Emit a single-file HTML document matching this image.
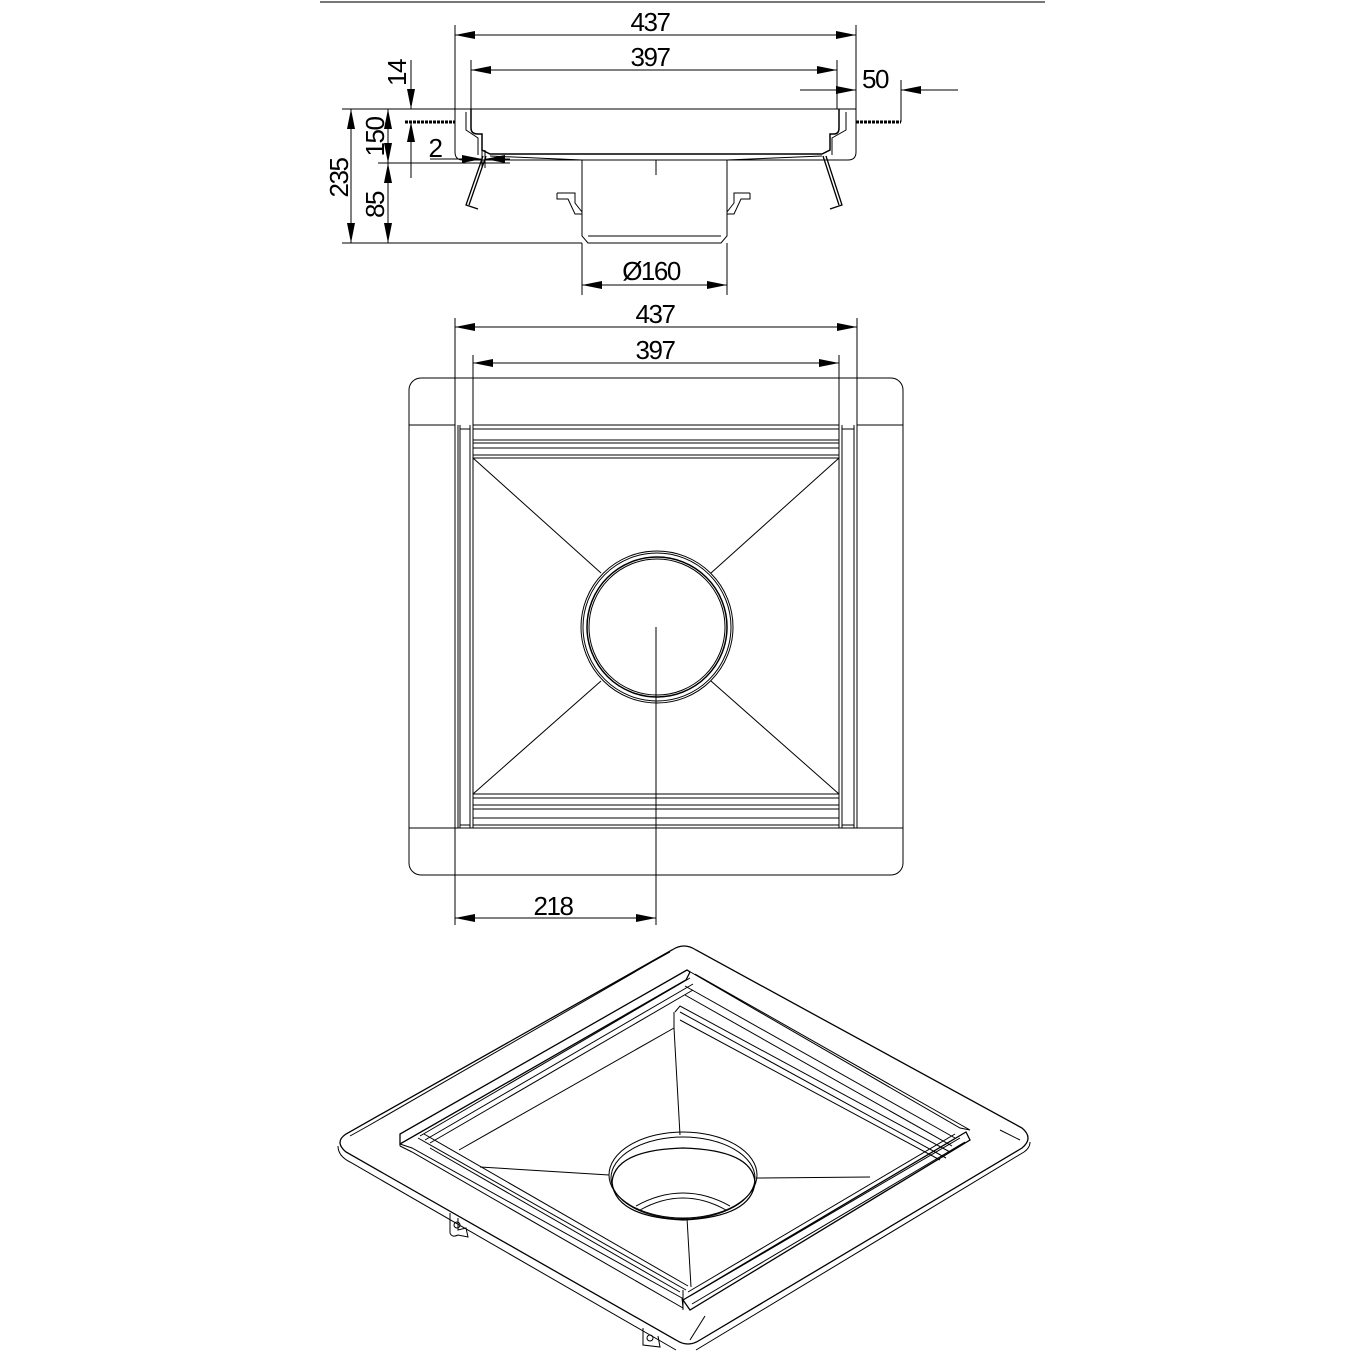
<!DOCTYPE html>
<html><head><meta charset="utf-8"><style>
html,body{margin:0;padding:0;background:#fff}
svg{display:block}
text{font-family:"Liberation Sans",sans-serif;font-size:26px;fill:#000;letter-spacing:-1.5px}
</style></head><body>
<svg width="1366" height="1366" viewBox="0 0 1366 1366" xmlns="http://www.w3.org/2000/svg">
<defs>
<marker id="a" viewBox="0 0 20 8" refX="20" refY="4" markerWidth="20" markerHeight="8" markerUnits="userSpaceOnUse" orient="auto-start-reverse"><path d="M0,0 L20,4 L0,8 z" fill="#000"/></marker>
</defs>
<line x1="320" y1="2" x2="1045" y2="2" stroke="#777" stroke-width="2"/>
<g stroke="#000" stroke-width="1" fill="none">
<!-- SECTION VIEW -->
<line x1="455" y1="25" x2="455" y2="109"/><line x1="856" y1="25" x2="856" y2="109"/>
<line x1="455" y1="35" x2="856" y2="35" marker-start="url(#a)" marker-end="url(#a)"/>
<line x1="471" y1="60" x2="471" y2="109"/><line x1="837" y1="60" x2="837" y2="109"/>
<line x1="471" y1="70" x2="837" y2="70" marker-start="url(#a)" marker-end="url(#a)"/>
<line x1="800" y1="90" x2="856" y2="90" marker-end="url(#a)"/>
<line x1="958" y1="90" x2="901" y2="90" marker-end="url(#a)"/>
<line x1="901" y1="80" x2="901" y2="122"/>
<line x1="411" y1="60" x2="411" y2="109" marker-end="url(#a)"/>
<line x1="411" y1="178" x2="411" y2="122" marker-end="url(#a)"/>
<line x1="342" y1="109" x2="856" y2="109"/>
<line x1="405" y1="122" x2="455" y2="122" stroke-width="3" stroke-dasharray="3 1"/>
<line x1="856" y1="122" x2="901" y2="122" stroke-width="3" stroke-dasharray="3 1"/>
<path d="M455,109 V152 Q455,160 463,160 H848 Q856,160 856,152 V109"/>
<path d="M471,109 V128 Q471,134 478,134 H482 V150 L490,154 H822 L830,150 V134 H834 Q839,134 839,128 V109" stroke-width="1.5"/>
<path d="M466,112 V130 L478,138 V155 M846,112 V130 L832,138 V155"/>
<path d="M490,156 L582,160 M822,156 L727,160"/>
<path d="M582,160 V236 L588,243 H721 L727,236 V160"/>
<line x1="588" y1="236" x2="721" y2="236"/>
<line x1="656" y1="160" x2="656" y2="175"/>
<path d="M557,193 H575 V203 L582,212 M557,193 V199 H568 L575,214 H582"/>
<path d="M750,193 H734 V203 L727,212 M750,193 V199 H741 L734,214 H727"/>
<path d="M483,156 L466,205 L478,209 M486,156 L469,205" stroke-width="1.3"/>
<path d="M826,156 L842,205 L830,209 M823,156 L839,205" stroke-width="1.3"/>
<line x1="351" y1="109" x2="351" y2="243" marker-start="url(#a)" marker-end="url(#a)"/>
<line x1="388" y1="109" x2="388" y2="163" marker-start="url(#a)" marker-end="url(#a)"/>
<line x1="388" y1="163" x2="388" y2="243" marker-start="url(#a)" marker-end="url(#a)"/>
<line x1="378" y1="163" x2="510" y2="163"/>
<line x1="342" y1="243" x2="582" y2="243"/>
<line x1="430" y1="159" x2="482" y2="159" marker-end="url(#a)"/>
<line x1="510" y1="159" x2="485" y2="159" marker-end="url(#a)"/>
<line x1="482" y1="150" x2="482" y2="168"/><line x1="485" y1="150" x2="485" y2="168"/>
<line x1="582" y1="243" x2="582" y2="295"/><line x1="727" y1="243" x2="727" y2="295"/>
<line x1="582" y1="285" x2="727" y2="285" marker-start="url(#a)" marker-end="url(#a)"/>

<!-- PLAN VIEW -->
<line x1="455" y1="318" x2="455" y2="925"/><line x1="857" y1="318" x2="857" y2="425"/>
<line x1="455" y1="327" x2="857" y2="327" marker-start="url(#a)" marker-end="url(#a)"/>
<line x1="473" y1="355" x2="473" y2="425"/><line x1="839" y1="355" x2="839" y2="425"/>
<line x1="473" y1="363" x2="839" y2="363" marker-start="url(#a)" marker-end="url(#a)"/>
<rect x="409" y="378" width="494" height="497" rx="12"/>
<line x1="409" y1="425" x2="455" y2="425"/><line x1="857" y1="425" x2="903" y2="425"/>
<line x1="409" y1="828" x2="903" y2="828"/>
<line x1="473" y1="425" x2="839" y2="425"/>
<line x1="473" y1="429" x2="839" y2="429"/>
<line x1="473" y1="440" x2="839" y2="440"/>
<line x1="473" y1="443" x2="839" y2="443"/>
<line x1="473" y1="448" x2="839" y2="448"/>
<line x1="473" y1="455" x2="839" y2="455"/>
<line x1="473" y1="458" x2="839" y2="458"/>
<line x1="473" y1="794" x2="839" y2="794"/>
<line x1="473" y1="798" x2="839" y2="798"/>
<line x1="473" y1="805" x2="839" y2="805"/>
<line x1="473" y1="809" x2="839" y2="809"/>
<line x1="473" y1="818" x2="839" y2="818"/>
<line x1="473" y1="825" x2="839" y2="825"/>
<line x1="458" y1="425" x2="458" y2="828"/><line x1="460" y1="425" x2="460" y2="828"/>
<line x1="470" y1="425" x2="470" y2="828"/><line x1="473" y1="425" x2="473" y2="828"/>
<line x1="839" y1="425" x2="839" y2="828"/><line x1="842" y1="425" x2="842" y2="828"/>
<line x1="854" y1="425" x2="854" y2="828"/><line x1="857" y1="425" x2="857" y2="828"/>
<line x1="460" y1="429" x2="470" y2="429"/><line x1="842" y1="429" x2="854" y2="429"/>
<line x1="460" y1="825" x2="470" y2="825"/><line x1="842" y1="825" x2="854" y2="825"/>
<circle cx="657" cy="627" r="76"/><circle cx="657" cy="627" r="74"/>
<circle cx="657" cy="627" r="70" stroke-width="1.5"/><circle cx="657" cy="627" r="68"/>
<line x1="473" y1="458" x2="601" y2="573"/><line x1="839" y1="458" x2="711" y2="573"/>
<line x1="473" y1="794" x2="601" y2="681"/><line x1="839" y1="794" x2="711" y2="681"/>
<line x1="656" y1="627" x2="656" y2="925"/>
<line x1="455" y1="918" x2="656" y2="918" marker-start="url(#a)" marker-end="url(#a)"/>

<!-- ISO VIEW -->
<path d="M672,950 Q684,942 696,950 L1022,1128 Q1034,1138 1022,1148 L700,1340 Q688,1348 676,1340 L346,1152 Q334,1142 346,1134 Z" stroke-width="1.3"/>
<path d="M338,1146 Q338,1156 350,1162 L676,1350 M696,1350 L1024,1152 Q1030,1148 1030,1142"/>
<line x1="652" y1="962" x2="368" y2="1126"/>
<line x1="652" y1="962" x2="670" y2="952"/>
<line x1="368" y1="1126" x2="350" y2="1136"/>
<line x1="1000" y1="1130" x2="1020" y2="1140"/>
<line x1="705" y1="1316" x2="690" y2="1340"/>
<!-- rails -->
<path d="M687,970 L400,1134 L400,1144 L686,980 L690,972 Z" stroke-width="1.3"/>
<line x1="690" y1="978" x2="420" y2="1136"/><line x1="693" y1="984" x2="425" y2="1140"/>
<line x1="693" y1="990" x2="430" y2="1143"/>
<path d="M687,970 L960,1128 L970,1130 L695,974"/>
<line x1="685" y1="986" x2="955" y2="1138"/><line x1="685" y1="995" x2="952" y2="1146"/>
<path d="M675,1012 L680,1006 L950,1152"/>
<line x1="680" y1="1012" x2="946" y2="1158"/><line x1="680" y1="1020" x2="940" y2="1160"/>
<path d="M400,1144 L412,1148 L682,1298 L683,1308 L412,1152 L400,1146"/>
<line x1="418" y1="1138" x2="686" y2="1290"/><line x1="424" y1="1134" x2="688" y2="1286"/>
<line x1="430" y1="1148" x2="680" y2="1292"/>
<path d="M683,1300 L966,1132 L970,1140 L690,1310 Z" stroke-width="1.3"/>
<line x1="688" y1="1292" x2="955" y2="1134"/><line x1="690" y1="1296" x2="960" y2="1138"/>
<line x1="692" y1="1304" x2="965" y2="1142"/>
<line x1="683" y1="1290" x2="683" y2="1310"/><line x1="400" y1="1134" x2="400" y2="1146"/>
<!-- funnel -->
<line x1="674" y1="1028" x2="459" y2="1150"/>
<line x1="674" y1="1028" x2="674" y2="1012"/>
<line x1="674" y1="1028" x2="680" y2="1135"/>
<line x1="480" y1="1167" x2="609" y2="1175"/>
<line x1="756" y1="1178" x2="870" y2="1177"/>
<line x1="687" y1="1218" x2="691" y2="1287"/>
<ellipse cx="683" cy="1175" rx="74" ry="43"/>
<ellipse cx="683" cy="1178" rx="72" ry="41"/>
<path d="M612,1182 Q615,1150 683,1148 Q752,1150 755,1182 Q752,1217 683,1220 Q615,1217 612,1182 Z" stroke-width="1.3"/>
<path d="M636,1206 Q683,1180 730,1206 M640,1210 Q683,1186 726,1210"/>
<!-- brackets -->
<path d="M450,1213 V1233 Q452,1238 458,1235 L468,1237 L466,1228 L458,1230 V1218"/>
<circle cx="457" cy="1225" r="3"/>
<path d="M643,1328 V1345 L660,1347 L658,1336"/>
<circle cx="650" cy="1338" r="3"/>
</g>
<g>
<text x="650" y="31" text-anchor="middle">437</text>
<text x="650" y="66" text-anchor="middle">397</text>
<text x="875" y="88" text-anchor="middle">50</text>
<text transform="translate(406,73) rotate(-90)" text-anchor="middle">14</text>
<text transform="translate(384,137) rotate(-90)" text-anchor="middle">150</text>
<text transform="translate(384,205) rotate(-90)" text-anchor="middle">85</text>
<text transform="translate(348,178) rotate(-90)" text-anchor="middle">235</text>
<text x="435" y="157" text-anchor="middle">2</text>
<text x="651" y="280" text-anchor="middle">Ø160</text>
<text x="655" y="323" text-anchor="middle">437</text>
<text x="655" y="359" text-anchor="middle">397</text>
<text x="553" y="915" text-anchor="middle">218</text>
</g>
</svg>
</body></html>
